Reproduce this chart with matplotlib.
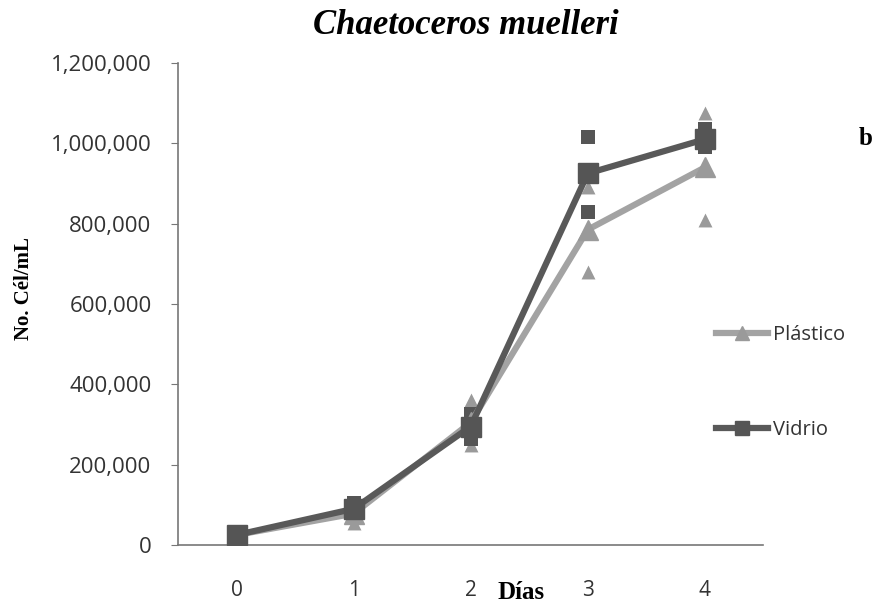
import matplotlib.pyplot as plt
from matplotlib.ticker import FuncFormatter
import numpy as np

# datos
dias = [0, 1, 2, 3, 4]
plastico_media = [25000, 78000, 305000, 785000, 940000]
vidrio_media = [25000, 90000, 295000, 925000, 1010000]

# réplicas por día
plastico_rep = [[20000, 25000, 30000], [55000, 80000, 100000], [250000, 305000, 360000],
                [680000, 785000, 890000], [810000, 935000, 1075000]]
vidrio_rep = [[20000, 25000, 30000], [75000, 90000, 105000], [265000, 295000, 325000],
              [830000, 930000, 1015000], [990000, 1010000, 1035000]]

col_p = '#a3a3a3'
col_v = '#595959'

fig = plt.figure(figsize=(8.79, 6.11), dpi=100)
ax = fig.add_axes([0.2025, 0.108, 0.666, 0.789])

x = np.arange(len(dias))

# puntos de réplicas
for i in range(len(dias)):
    ax.scatter([x[i]] * 3, plastico_rep[i], marker='^', s=100, color='#9a9a9a', zorder=2, linewidths=0)
for i in range(len(dias)):
    ax.scatter([x[i]] * 3, vidrio_rep[i], marker='s', s=90, color='#555555', zorder=3, linewidths=0)

ax.plot(x, plastico_media, color=col_p, lw=4.5, marker='^', ms=14, mfc='#9a9a9a', mec='#9a9a9a',
        label='Plástico', zorder=4)
ax.plot(x, vidrio_media, color=col_v, lw=4.5, marker='s', ms=14, mfc='#555555', mec='#555555',
        label='Vidrio', zorder=5)

ax.set_xlim(-0.5, 4.5)
ax.set_ylim(0, 1200000)
ax.set_yticks(np.arange(0, 1200001, 200000))
ax.yaxis.set_major_formatter(FuncFormatter(lambda v, p: f'{int(v):,}'))
ax.set_xticks(x)
ax.set_xticklabels([str(d) for d in dias])

for s in ['top', 'right']:
    ax.spines[s].set_visible(False)
for s in ['left', 'bottom']:
    ax.spines[s].set_color('#777777')
    ax.spines[s].set_linewidth(1.2)
ax.tick_params(axis='y', length=5, color='#777777', labelsize=16, pad=14)
ax.tick_params(axis='x', length=0, labelsize=15, pad=25)
for t in ax.get_xticklabels() + ax.get_yticklabels():
    t.set_fontfamily('Open Sans')
    t.set_color('#333333')

fig.text(0.530, 0.958, 'Chaetoceros muelleri', fontsize=25, fontweight='bold', fontstyle='italic',
         family='Liberation Serif', ha='center', va='center')
fig.text(0.027, 0.528, 'No. Cél/mL', fontsize=15, fontweight='bold', family='Liberation Serif',
         rotation=90, ha='center', va='center')
fig.text(0.593, 0.031, 'Días', fontsize=18, fontweight='bold', family='Liberation Serif',
         ha='center', va='center')
fig.text(0.985, 0.774, 'b', fontsize=18, fontweight='bold', family='Liberation Serif',
         ha='center', va='center')

leg = ax.legend(loc='upper left', bbox_to_anchor=(0.8146, 0.468), bbox_transform=fig.transFigure,
                frameon=False, handlelength=2.6, handletextpad=0.25, labelspacing=3.7,
                borderpad=0, borderaxespad=0,
                prop={'family': 'Open Sans', 'size': 14.5}, markerscale=0.7)
for t in leg.get_texts():
    t.set_color('#333333')

fig.savefig('out.png', dpi=100)
